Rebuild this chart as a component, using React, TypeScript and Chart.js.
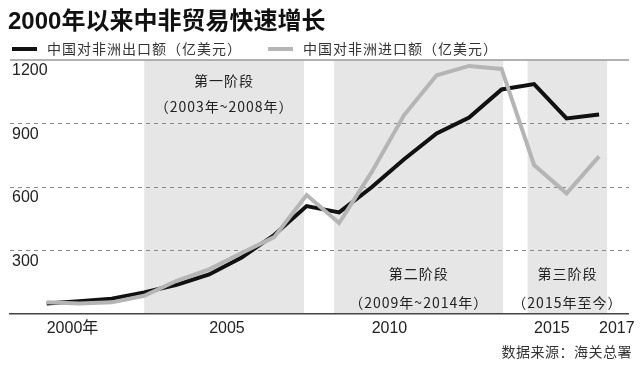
import React, { useEffect, useRef } from "react";
import { Chart, registerables } from "chart.js";

Chart.register(...registerables);

const titleText = "2000年以来中非贸易快速增长";
const sourceText = "数据来源：海关总署";

const years = [2000, 2001, 2002, 2003, 2004, 2005, 2006, 2007, 2008, 2009, 2010, 2011, 2012, 2013, 2014, 2015, 2016, 2017];
const exportValues = [50, 60, 72, 102, 138, 187, 267, 373, 510, 480, 599, 731, 853, 928, 1061, 1086, 924, 942];
const importValues = [55, 50, 55, 86, 157, 211, 288, 363, 562, 430, 670, 940, 1128, 1172, 1158, 704, 570, 745];

const exportLabel = "中国对非洲出口额（亿美元）";
const importLabel = "中国对非洲进口额（亿美元）";

const xTickValues = [2000, 2005, 2010, 2015, 2017];
const xTickLabels = ["2000年", "2005", "2010", "2015", "2017"];
const yTickValues = [0, 300, 600, 900, 1200];

const phaseNames = ["第一阶段", "第二阶段", "第三阶段"];
const phaseSpans = ["（2003年~2008年）", "（2009年~2014年）", "（2015年至今）"];
const phaseStart = [2003.0, 2008.85, 2014.8];
const phaseEnd = [2007.92, 2014.05, 2017.25];
const phaseAtTop = [true, false, false];

const LATIN_CJK = "'Liberation Sans', 'Noto Sans CJK SC', sans-serif";
const CJK = "'Noto Sans CJK SC', 'Liberation Sans', sans-serif";

const decorPlugin = {
  id: "decor",
  beforeDraw(chart: any) {
    const { ctx, chartArea, scales } = chart;
    const x = scales.x;
    ctx.save();
    ctx.fillStyle = "#ffffff";
    ctx.fillRect(0, 0, chart.width, chart.height);
    ctx.fillStyle = "#e6e6e6";
    for (let i = 0; i < phaseStart.length; i++) {
      const x0 = x.getPixelForValue(phaseStart[i]);
      const x1 = x.getPixelForValue(phaseEnd[i]);
      ctx.fillRect(x0, chartArea.top, x1 - x0, chartArea.bottom - chartArea.top);
    }
    ctx.restore();
  },
  afterDraw(chart: any) {
    const { ctx, chartArea, scales } = chart;
    const x = scales.x;
    ctx.save();
    // top rule
    ctx.strokeStyle = "#999999";
    ctx.lineWidth = 1.5;
    ctx.beginPath();
    ctx.moveTo(chartArea.left, chartArea.top);
    ctx.lineTo(chartArea.right, chartArea.top);
    ctx.stroke();

    // title
    ctx.fillStyle = "#111111";
    ctx.font = "bold 24px " + LATIN_CJK;
    ctx.textAlign = "left";
    ctx.textBaseline = "middle";
    ctx.fillText(titleText, 8, 22);

    // legend
    const ds = chart.data.datasets;
    const legendOrder = [1, 0];
    let lx = 12;
    const ly = 49;
    ctx.font = "14px " + CJK;
    try { (ctx as any).letterSpacing = "1px"; } catch (e) {}
    for (const idx of legendOrder) {
      const d = ds[idx];
      ctx.fillStyle = d.borderColor;
      ctx.fillRect(lx, ly - 2, 25, 4);
      lx += 35;
      ctx.fillStyle = "#333333";
      ctx.fillText(d.label, lx, ly);
      lx += ctx.measureText(d.label).width + 26;
    }

    // phase labels
    ctx.font = "14px " + CJK;
    ctx.textAlign = "center";
    ctx.fillStyle = "#222222";
    for (let i = 0; i < phaseNames.length; i++) {
      const cx = (x.getPixelForValue(phaseStart[i]) + x.getPixelForValue(phaseEnd[i])) / 2;
      const y1 = phaseAtTop[i] ? chartArea.top + 21 : chartArea.bottom - 40;
      const y2 = phaseAtTop[i] ? chartArea.top + 47 : chartArea.bottom - 11;
      ctx.fillText(phaseNames[i], cx, y1);
      ctx.fillText(phaseSpans[i], cx, y2);
    }

    // source
    try { (ctx as any).letterSpacing = "0.5px"; } catch (e) {}
    ctx.textAlign = "right";
    ctx.fillStyle = "#333333";
    ctx.fillText(sourceText, 632, 352);
    try { (ctx as any).letterSpacing = "0px"; } catch (e) {}
    ctx.restore();
  },
};

export default function App() {
  const ref = useRef<HTMLCanvasElement | null>(null);

  useEffect(() => {
    if (!ref.current) return;
    const chart = new Chart(ref.current, {
      type: "line",
      data: {
        datasets: [
          {
            label: importLabel,
            data: years.map((yr, i) => ({ x: yr, y: importValues[i] })),
            borderColor: "#b5b5b5",
            backgroundColor: "#b5b5b5",
            borderWidth: 4,
            pointRadius: 0,
            tension: 0,
            order: 0,
          },
          {
            label: exportLabel,
            data: years.map((yr, i) => ({ x: yr, y: exportValues[i] })),
            borderColor: "#111111",
            backgroundColor: "#111111",
            borderWidth: 4,
            pointRadius: 0,
            tension: 0,
            order: 1,
          },
        ],
      },
      options: {
        animation: false,
        responsive: false,
        devicePixelRatio: 1,
        layout: { padding: { left: 10, right: 7, top: 60, bottom: 0 }, autoPadding: false },
        plugins: { legend: { display: false }, tooltip: { enabled: false }, title: { display: false } },
        scales: {
          x: {
            type: "linear",
            min: 1998.87,
            max: 2017.92,
            afterBuildTicks: (axis: any) => {
              axis.ticks = xTickValues.map((v) => ({ value: v }));
            },
            afterFit: (axis: any) => {
              axis.height = 52;
            },
            grid: { display: false, drawTicks: false },
            border: { display: true, color: "#444444", width: 1.5 },
            ticks: {
              autoSkip: false,
              maxRotation: 0,
              align: "start",
              padding: 5,
              color: "#222222",
              font: { size: 16, family: LATIN_CJK },
              callback: (value: any) => {
                const i = xTickValues.indexOf(Number(value));
                return i >= 0 ? xTickLabels[i] : "";
              },
            },
          },
          y: {
            type: "linear",
            min: 0,
            max: 1200,
            afterBuildTicks: (axis: any) => {
              axis.ticks = yTickValues.map((v) => ({ value: v }));
            },
            afterFit: (axis: any) => {
              axis.width = 0;
            },
            grid: {
              drawTicks: false,
              lineWidth: 1,
              color: (c: any) => (c.tick && (c.tick.value === 0 || c.tick.value === 1200) ? "rgba(0,0,0,0)" : "#8a8a8a"),
            },
            border: { display: false, dash: [4, 4] },
            ticks: {
              mirror: true,
              padding: 2,
              labelOffset: 11,
              color: "#222222",
              font: { size: 16, family: LATIN_CJK },
              callback: (value: any) => (Number(value) === 0 ? "" : String(value)),
            },
          },
        },
      },
      plugins: [decorPlugin],
    } as any);
    return () => chart.destroy();
  }, []);

  return (
    <div style={{ position: "fixed", left: 0, top: 0, width: 640, height: 366, background: "#fff" }}>
      <canvas ref={ref} width={640} height={366} style={{ display: "block", width: 640, height: 366 }} />
    </div>
  );
}
